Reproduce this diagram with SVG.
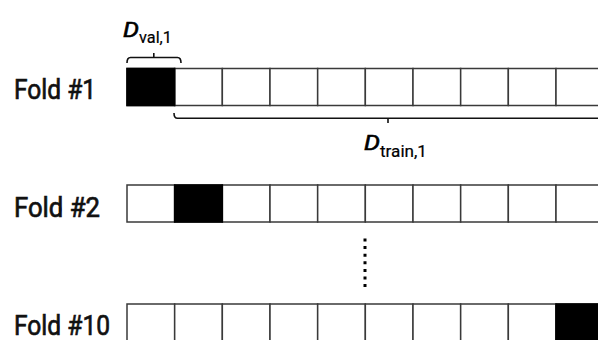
<svg xmlns="http://www.w3.org/2000/svg" width="598" height="340" viewBox="0 0 598 340">
<style>
.cell{fill:#fff;stroke:#3a3a3a;stroke-width:1.5}
.val{fill:#000;stroke:#000;stroke-width:1.5}
.lbl{font-family:Roboto,"DejaVu Sans",sans-serif;font-weight:400;font-size:28px;fill:#111;stroke:#111;stroke-width:0.7}
.brace{fill:none;stroke:#111;stroke-width:1.6}
.dm{font-family:Roboto,"DejaVu Sans",sans-serif;font-style:italic;font-weight:400;font-size:21px;fill:#000;stroke:#000;stroke-width:0.6}
.sub{font-family:Roboto,"DejaVu Sans",sans-serif;font-size:17px;fill:#000;stroke:#000;stroke-width:0.2}
</style>
<defs>
<g id="row">
<rect class="cell" x="127" y="0" width="47.67" height="37"/>
<rect class="cell" x="174.67" y="0" width="47.67" height="37"/>
<rect class="cell" x="222.33" y="0" width="47.67" height="37"/>
<rect class="cell" x="270" y="0" width="47.67" height="37"/>
<rect class="cell" x="317.67" y="0" width="47.67" height="37"/>
<rect class="cell" x="365.33" y="0" width="47.67" height="37"/>
<rect class="cell" x="413" y="0" width="47.67" height="37"/>
<rect class="cell" x="460.67" y="0" width="47.67" height="37"/>
<rect class="cell" x="508.33" y="0" width="47.67" height="37"/>
<rect class="cell" x="556" y="0" width="47.67" height="37"/>
</g>
</defs>
<g id="fold1">
<text class="lbl" x="14" y="98.5" textLength="82" lengthAdjust="spacingAndGlyphs">Fold #1</text>
<use href="#row" x="0" y="68.5"/>
<rect class="val" x="127" y="68.5" width="47.67" height="37"/>
</g>
<g id="fold2">
<text class="lbl" x="14" y="216.5" textLength="86" lengthAdjust="spacingAndGlyphs">Fold #2</text>
<use href="#row" x="0" y="185"/>
<rect class="val" x="174.67" y="185" width="47.67" height="37"/>
</g>
<g id="fold10">
<text class="lbl" x="14" y="334.5" textLength="96" lengthAdjust="spacingAndGlyphs">Fold #10</text>
<use href="#row" x="0" y="304"/>
<rect class="val" x="556" y="304" width="47.67" height="37"/>
</g>
<g id="dval">
<text class="dm" x="123" y="37" textLength="16" lengthAdjust="spacingAndGlyphs">D</text>
<text class="sub" x="139" y="43" textLength="33" lengthAdjust="spacingAndGlyphs">val,1</text>
</g>
<g id="dtrain">
<text class="dm" x="364" y="150" textLength="16" lengthAdjust="spacingAndGlyphs">D</text>
<text class="sub" x="380" y="156.5" textLength="47" lengthAdjust="spacingAndGlyphs">train,1</text>
</g>
<g id="connectors">
<path class="brace" d="M127,63 Q127,57.5 130.5,57.5 L177.5,57.5 Q181,57.5 181,63 M153.8,57.5 V53"/>
<path class="brace" d="M174,113 Q174,118.3 177.5,118.3 L600,118.3 M388,118.3 V123"/>
<line x1="365" y1="238.5" x2="365" y2="288" stroke="#000" stroke-width="3" stroke-dasharray="3 4.6"/>
</g>
</svg>
